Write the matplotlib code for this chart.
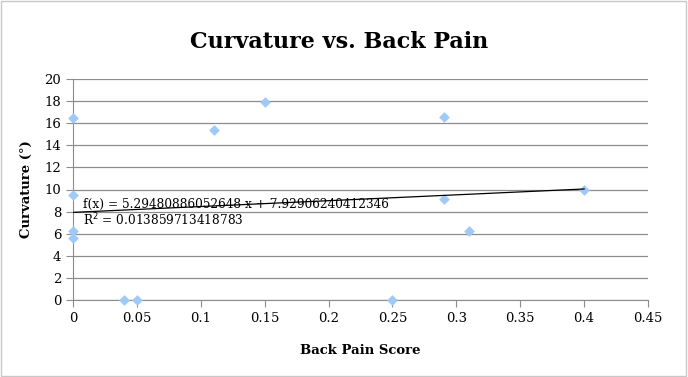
import numpy as np
import matplotlib.pyplot as plt
from matplotlib.patches import Rectangle

# back pain score vs curvature (degrees)
pain = [0, 0, 0, 0, 0.04, 0.05, 0.11, 0.15, 0.25, 0.29, 0.29, 0.31, 0.40]
curv = [16.5, 9.5, 6.2, 5.6, 0, 0, 15.4, 17.9, 0, 16.6, 9.1, 6.2, 10.0]

slope = 5.29480886052648
intercept = 7.92906240412346
r2 = 0.013859713418783

plt.rcParams['font.family'] = ['DejaVu Serif']

fig = plt.figure(figsize=(6.88, 3.77), dpi=100)
ax = fig.add_axes([73/688, 77/377, 575/688, 221/377])

ax.scatter(pain, curv, marker='D', s=30, color='#9fcaf7', zorder=3, linewidths=0, clip_on=False)

xs = np.array([min(pain), max(pain)])
ax.plot(xs, slope * xs + intercept, color='black', lw=0.9, zorder=4)

ax.set_xlim(0, 0.45)
ax.set_ylim(0, 20)
ax.set_xticks(np.arange(0, 0.451, 0.05))
ax.set_xticklabels(['0', '0.05', '0.1', '0.15', '0.2', '0.25', '0.3', '0.35', '0.4', '0.45'])
ax.set_yticks(range(0, 21, 2))
ax.yaxis.grid(True, color='#8c8c8c', lw=0.9)
ax.set_axisbelow(True)
for s in ['top', 'right']:
    ax.spines[s].set_visible(False)
for s in ['left', 'bottom']:
    ax.spines[s].set_color('#8c8c8c')
ax.tick_params(colors='#8c8c8c', labelcolor='black', labelsize=9.5, length=5)

ax.text(0.017, 0.434, 'f(x) = %s x + %s' % (repr(slope), repr(intercept)),
        transform=ax.transAxes, fontsize=8.7, va='center', zorder=5)
ax.text(0.017, 0.362, 'R$^2$ = %s' % repr(r2),
        transform=ax.transAxes, fontsize=8.7, va='center', zorder=5)

fig.suptitle('Curvature vs. Back Pain', x=0.493, y=1 - 42/377, va='center',
             fontsize=16, fontweight='bold')
ax.set_xlabel('Back Pain Score', fontsize=9.5, fontweight='bold', labelpad=14)
ax.set_ylabel('Curvature (°)', fontsize=9.5, fontweight='bold', labelpad=8)

fig.patches.append(Rectangle((0.002, 0.003), 0.995, 0.994, transform=fig.transFigure,
                             fill=False, edgecolor='#c8c8c8', lw=1))

fig.savefig('out.png', dpi=100)
